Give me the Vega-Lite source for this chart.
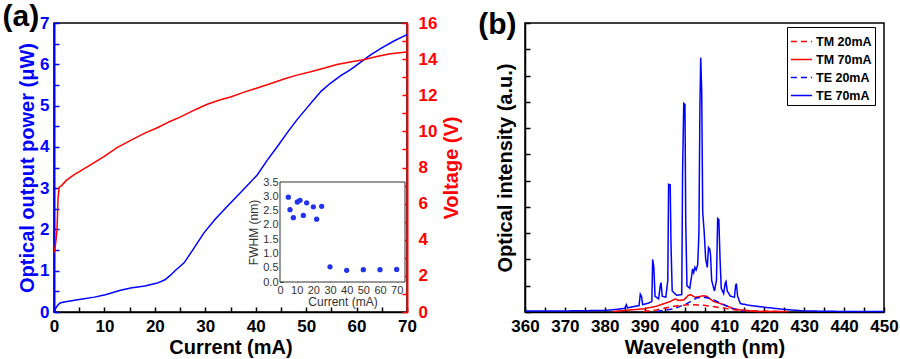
{
  "$schema": "https://vega.github.io/schema/vega-lite/v6.json",
  "padding": {"left": 1, "top": 1, "right": 0, "bottom": 0},
  "background": "white",
  "spacing": 14,
  "resolve": {
    "scale": {"color": "independent", "strokeDash": "independent"},
    "legend": {"color": "independent", "strokeDash": "independent"}
  },
  "config": {
    "font": "Liberation Sans",
    "view": {"stroke": "black", "strokeWidth": 1.5},
    "axis": {
      "grid": false,
      "labelFont": "Liberation Sans",
      "labelFontWeight": "bold",
      "labelFontSize": 17,
      "labelColor": "black",
      "labelFlush": false,
      "labelOverlap": false,
      "titleFont": "Liberation Sans",
      "titleFontWeight": "bold",
      "titleFontSize": 20,
      "titleColor": "black",
      "domainColor": "black",
      "domainWidth": 1.5,
      "tickColor": "black",
      "tickWidth": 1.5,
      "tickSize": -5,
      "labelPadding": 11,
      "titlePadding": 3
    },
    "title": {"font": "Liberation Sans", "fontWeight": "bold", "fontSize": 30, "anchor": "start", "frame": "bounds", "color": "black"}
  },
  "datasets": {
    "power": [
      {"I": 0, "P": 0}, {"I": 0.3, "P": 0.08}, {"I": 0.7, "P": 0.16}, {"I": 1.2, "P": 0.22},
      {"I": 2, "P": 0.24}, {"I": 5, "P": 0.3}, {"I": 8, "P": 0.36}, {"I": 10.2, "P": 0.42},
      {"I": 13, "P": 0.52}, {"I": 15.2, "P": 0.58}, {"I": 18, "P": 0.63}, {"I": 20.5, "P": 0.7},
      {"I": 22, "P": 0.78}, {"I": 23, "P": 0.88}, {"I": 24, "P": 1.0}, {"I": 25.8, "P": 1.19},
      {"I": 27.5, "P": 1.5}, {"I": 29.7, "P": 1.91}, {"I": 32, "P": 2.25}, {"I": 35, "P": 2.64},
      {"I": 38, "P": 3.02}, {"I": 40.3, "P": 3.32}, {"I": 42.3, "P": 3.68}, {"I": 44.3, "P": 4.01},
      {"I": 46.3, "P": 4.35}, {"I": 48.2, "P": 4.66}, {"I": 50, "P": 4.92}, {"I": 51.5, "P": 5.14},
      {"I": 53, "P": 5.35}, {"I": 54.8, "P": 5.54}, {"I": 56.8, "P": 5.72}, {"I": 58.8, "P": 5.87},
      {"I": 60.7, "P": 6.04}, {"I": 62.7, "P": 6.22}, {"I": 65, "P": 6.4}, {"I": 67.5, "P": 6.57},
      {"I": 70, "P": 6.72}
    ],
    "voltage": [
      {"I": 0.1, "V": 3.3}, {"I": 0.4, "V": 4.0}, {"I": 0.6, "V": 4.6}, {"I": 0.8, "V": 6.3},
      {"I": 1.0, "V": 6.9}, {"I": 1.5, "V": 7.0}, {"I": 2.5, "V": 7.3}, {"I": 4.0, "V": 7.6},
      {"I": 7, "V": 8.1}, {"I": 9.9, "V": 8.6}, {"I": 12.5, "V": 9.1}, {"I": 15.2, "V": 9.5},
      {"I": 18, "V": 9.9}, {"I": 20.5, "V": 10.2}, {"I": 23, "V": 10.55}, {"I": 25.1, "V": 10.8},
      {"I": 28, "V": 11.2}, {"I": 30.4, "V": 11.5}, {"I": 33, "V": 11.75}, {"I": 35, "V": 11.9},
      {"I": 38, "V": 12.2}, {"I": 40.3, "V": 12.4}, {"I": 43, "V": 12.65}, {"I": 45.6, "V": 12.9},
      {"I": 48, "V": 13.1}, {"I": 50.9, "V": 13.3}, {"I": 53.5, "V": 13.5}, {"I": 56.1, "V": 13.7},
      {"I": 59, "V": 13.85}, {"I": 61.4, "V": 13.96}, {"I": 64, "V": 14.15}, {"I": 66.7, "V": 14.3},
      {"I": 70, "V": 14.4}
    ],
    "frame": [{"x0": 0, "x1": 75, "y0": 0, "y1": 3.5}],
    "fwhm": [
      {"I": 5, "W": 2.97}, {"I": 6, "W": 2.53}, {"I": 8, "W": 2.25}, {"I": 10.4, "W": 2.8},
      {"I": 12, "W": 2.86}, {"I": 14, "W": 2.33}, {"I": 16, "W": 2.77}, {"I": 20, "W": 2.63},
      {"I": 22, "W": 2.2}, {"I": 25, "W": 2.65}, {"I": 30, "W": 0.53}, {"I": 40, "W": 0.41},
      {"I": 50, "W": 0.43}, {"I": 60, "W": 0.43}, {"I": 70, "W": 0.44}
    ],
    "spectra": [
      {"series": "TE 70mA", "wl": 360, "v": 0.02}, {"series": "TE 70mA", "wl": 370, "v": 0.02},
      {"series": "TE 70mA", "wl": 380, "v": 0.03}, {"series": "TE 70mA", "wl": 383, "v": 0.05},
      {"series": "TE 70mA", "wl": 385, "v": 0.07}, {"series": "TE 70mA", "wl": 385.4, "v": 0.14},
      {"series": "TE 70mA", "wl": 385.7, "v": 0.08}, {"series": "TE 70mA", "wl": 387, "v": 0.1},
      {"series": "TE 70mA", "wl": 388.6, "v": 0.12}, {"series": "TE 70mA", "wl": 388.9, "v": 0.34},
      {"series": "TE 70mA", "wl": 389.2, "v": 0.3}, {"series": "TE 70mA", "wl": 389.5, "v": 0.14},
      {"series": "TE 70mA", "wl": 391, "v": 0.17}, {"series": "TE 70mA", "wl": 391.8, "v": 0.2},
      {"series": "TE 70mA", "wl": 392.0, "v": 1.0}, {"series": "TE 70mA", "wl": 392.3, "v": 0.85},
      {"series": "TE 70mA", "wl": 392.6, "v": 0.3}, {"series": "TE 70mA", "wl": 393.5, "v": 0.25},
      {"series": "TE 70mA", "wl": 393.9, "v": 0.5}, {"series": "TE 70mA", "wl": 394.1, "v": 0.56},
      {"series": "TE 70mA", "wl": 394.4, "v": 0.3}, {"series": "TE 70mA", "wl": 395.3, "v": 0.28},
      {"series": "TE 70mA", "wl": 395.8, "v": 0.6}, {"series": "TE 70mA", "wl": 396.0, "v": 2.43},
      {"series": "TE 70mA", "wl": 396.4, "v": 2.42}, {"series": "TE 70mA", "wl": 396.6, "v": 1.3},
      {"series": "TE 70mA", "wl": 396.9, "v": 0.4}, {"series": "TE 70mA", "wl": 398.0, "v": 0.32},
      {"series": "TE 70mA", "wl": 399.3, "v": 0.33}, {"series": "TE 70mA", "wl": 399.5, "v": 2.64},
      {"series": "TE 70mA", "wl": 399.8, "v": 3.97}, {"series": "TE 70mA", "wl": 400.1, "v": 3.95},
      {"series": "TE 70mA", "wl": 400.3, "v": 1.7}, {"series": "TE 70mA", "wl": 400.6, "v": 0.5},
      {"series": "TE 70mA", "wl": 401.3, "v": 0.45}, {"series": "TE 70mA", "wl": 401.8, "v": 0.7},
      {"series": "TE 70mA", "wl": 402.0, "v": 0.82}, {"series": "TE 70mA", "wl": 402.3, "v": 0.75},
      {"series": "TE 70mA", "wl": 402.6, "v": 0.85}, {"series": "TE 70mA", "wl": 402.9, "v": 0.8},
      {"series": "TE 70mA", "wl": 403.3, "v": 0.9}, {"series": "TE 70mA", "wl": 403.6, "v": 1.5},
      {"series": "TE 70mA", "wl": 403.85, "v": 3.9}, {"series": "TE 70mA", "wl": 404.05, "v": 4.84},
      {"series": "TE 70mA", "wl": 404.3, "v": 4.2}, {"series": "TE 70mA", "wl": 404.55, "v": 1.9},
      {"series": "TE 70mA", "wl": 404.9, "v": 1.55}, {"series": "TE 70mA", "wl": 405.3, "v": 1.0},
      {"series": "TE 70mA", "wl": 405.7, "v": 0.85}, {"series": "TE 70mA", "wl": 406.0, "v": 1.23},
      {"series": "TE 70mA", "wl": 406.3, "v": 1.2}, {"series": "TE 70mA", "wl": 406.5, "v": 1.1},
      {"series": "TE 70mA", "wl": 406.8, "v": 0.6}, {"series": "TE 70mA", "wl": 407.5, "v": 0.4},
      {"series": "TE 70mA", "wl": 408.0, "v": 0.6}, {"series": "TE 70mA", "wl": 408.3, "v": 1.78},
      {"series": "TE 70mA", "wl": 408.6, "v": 1.76}, {"series": "TE 70mA", "wl": 408.9, "v": 1.0},
      {"series": "TE 70mA", "wl": 409.2, "v": 0.45}, {"series": "TE 70mA", "wl": 409.8, "v": 0.35},
      {"series": "TE 70mA", "wl": 410.2, "v": 0.55}, {"series": "TE 70mA", "wl": 410.4, "v": 0.58},
      {"series": "TE 70mA", "wl": 410.7, "v": 0.4}, {"series": "TE 70mA", "wl": 411.5, "v": 0.3},
      {"series": "TE 70mA", "wl": 412.5, "v": 0.28}, {"series": "TE 70mA", "wl": 412.8, "v": 0.5},
      {"series": "TE 70mA", "wl": 413.0, "v": 0.54}, {"series": "TE 70mA", "wl": 413.3, "v": 0.3},
      {"series": "TE 70mA", "wl": 414, "v": 0.16}, {"series": "TE 70mA", "wl": 416, "v": 0.13},
      {"series": "TE 70mA", "wl": 420, "v": 0.09}, {"series": "TE 70mA", "wl": 425, "v": 0.05},
      {"series": "TE 70mA", "wl": 430, "v": 0.02}, {"series": "TE 70mA", "wl": 440, "v": 0.01},
      {"series": "TE 70mA", "wl": 450, "v": 0.01},
      {"series": "TM 70mA", "wl": 382, "v": 0.01}, {"series": "TM 70mA", "wl": 389.7, "v": 0.06},
      {"series": "TM 70mA", "wl": 393, "v": 0.11}, {"series": "TM 70mA", "wl": 396.4, "v": 0.2},
      {"series": "TM 70mA", "wl": 397.7, "v": 0.25}, {"series": "TM 70mA", "wl": 398.5, "v": 0.22},
      {"series": "TM 70mA", "wl": 399.8, "v": 0.23}, {"series": "TM 70mA", "wl": 401, "v": 0.32},
      {"series": "TM 70mA", "wl": 401.5, "v": 0.33}, {"series": "TM 70mA", "wl": 402.7, "v": 0.28},
      {"series": "TM 70mA", "wl": 404.8, "v": 0.31}, {"series": "TM 70mA", "wl": 405.5, "v": 0.3},
      {"series": "TM 70mA", "wl": 407.3, "v": 0.2}, {"series": "TM 70mA", "wl": 409.8, "v": 0.14},
      {"series": "TM 70mA", "wl": 412.3, "v": 0.06}, {"series": "TM 70mA", "wl": 414.9, "v": 0.03},
      {"series": "TM 70mA", "wl": 418.2, "v": 0.01}, {"series": "TM 70mA", "wl": 426, "v": 0.01},
      {"series": "TE 20mA", "wl": 393, "v": 0.01}, {"series": "TE 20mA", "wl": 397.3, "v": 0.06},
      {"series": "TE 20mA", "wl": 400.6, "v": 0.16}, {"series": "TE 20mA", "wl": 403.1, "v": 0.27},
      {"series": "TE 20mA", "wl": 405.2, "v": 0.28}, {"series": "TE 20mA", "wl": 407.3, "v": 0.23},
      {"series": "TE 20mA", "wl": 409.8, "v": 0.14}, {"series": "TE 20mA", "wl": 412.3, "v": 0.06},
      {"series": "TE 20mA", "wl": 415, "v": 0.01},
      {"series": "TM 20mA", "wl": 389.7, "v": 0.01}, {"series": "TM 20mA", "wl": 393, "v": 0.04},
      {"series": "TM 20mA", "wl": 397.3, "v": 0.11}, {"series": "TM 20mA", "wl": 401.5, "v": 0.14},
      {"series": "TM 20mA", "wl": 404.8, "v": 0.13}, {"series": "TM 20mA", "wl": 409, "v": 0.08},
      {"series": "TM 20mA", "wl": 413, "v": 0.04}, {"series": "TM 20mA", "wl": 418, "v": 0.02},
      {"series": "TM 20mA", "wl": 424, "v": 0.01}
    ]
  },
  "hconcat": [
    {
      "width": 353,
      "height": 289,
      "title": {"text": "(a)", "offset": -18, "dx": -15},
      "layer": [
        {
          "data": {"name": "power"},
          "mark": {"type": "line", "color": "#0000ff", "strokeWidth": 1.5},
          "encoding": {
            "x": {
              "field": "I", "type": "quantitative",
              "scale": {"domain": [0, 70], "nice": false},
              "axis": {
                "values": [0, 5, 10, 15, 20, 25, 30, 35, 40, 45, 50, 55, 60, 65, 70],
                "labelExpr": "datum.value % 10 ? '' : '' + datum.value",
                "title": "Current (mA)"
              }
            },
            "y": {
              "field": "P", "type": "quantitative",
              "scale": {"domain": [0, 7], "nice": false},
              "axis": {
                "orient": "left",
                "values": [0, 0.5, 1, 1.5, 2, 2.5, 3, 3.5, 4, 4.5, 5, 5.5, 6, 6.5, 7],
                "labelExpr": "datum.value % 1 ? '' : '' + datum.value",
                "labelPadding": 10, "titlePadding": 2,
                "title": "Optical output power (μW)",
                "titleColor": "#0000ff", "labelColor": "#0000ff",
                "domainColor": "#0000ff", "tickColor": "#0000ff", "domainWidth": 2
              }
            }
          }
        },
        {
          "data": {"name": "voltage"},
          "mark": {"type": "line", "color": "#ff0000", "strokeWidth": 1.5},
          "encoding": {
            "x": {"field": "I", "type": "quantitative", "scale": {"domain": [0, 70], "nice": false}, "axis": null},
            "y": {
              "field": "V", "type": "quantitative",
              "scale": {"domain": [0, 16], "nice": false},
              "axis": {
                "orient": "right",
                "values": [0, 1, 2, 3, 4, 5, 6, 7, 8, 9, 10, 11, 12, 13, 14, 15, 16],
                "labelExpr": "datum.value % 2 ? '' : '' + datum.value",
                "labelPadding": 16, "titlePadding": 5,
                "title": "Voltage (V)", "titleAngle": -90, "titleBaseline": "top",
                "titleColor": "#ff0000", "labelColor": "#ff0000",
                "domainColor": "#ff0000", "tickColor": "#ff0000", "domainWidth": 2
              }
            }
          }
        },
        {
          "data": {"name": "frame"},
          "mark": {"type": "rect", "fill": "white", "stroke": "#333333", "strokeWidth": 1},
          "encoding": {
            "x": {"field": "x0", "type": "quantitative", "scale": {"domain": [0, 75], "range": [226, 351], "nice": false}, "axis": null},
            "x2": {"field": "x1"},
            "y": {"field": "y0", "type": "quantitative", "scale": {"domain": [0, 3.5], "range": [259, 159], "nice": false}, "axis": null},
            "y2": {"field": "y1"}
          }
        },
        {
          "data": {"name": "fwhm"},
          "mark": {"type": "point", "filled": true, "color": "#2233ee", "size": 28, "opacity": 1},
          "encoding": {
            "x": {
              "field": "I", "type": "quantitative",
              "scale": {"domain": [0, 75], "range": [226, 351], "nice": false},
              "axis": {
                "orient": "bottom", "offset": -30,
                "values": [0, 10, 20, 30, 40, 50, 60, 70],
                "domain": false, "tickSize": -3, "tickWidth": 1, "tickColor": "#333333",
                "labelFont": "Liberation Sans", "labelFontWeight": "normal", "labelFontSize": 11, "labelColor": "#333333",
                "labelPadding": 5,
                "title": "Current (mA)", "titleFont": "Liberation Sans", "titleFontWeight": "normal", "titleFontSize": 12,
                "titleColor": "#333333", "titlePadding": 1
              }
            },
            "y": {
              "field": "W", "type": "quantitative",
              "scale": {"domain": [0, 3.5], "range": [259, 159], "nice": false},
              "axis": {
                "orient": "left", "offset": -226,
                "values": [0, 0.5, 1, 1.5, 2, 2.5, 3, 3.5], "format": ".1f",
                "domain": false, "tickSize": -3, "tickWidth": 1, "tickColor": "#333333",
                "labelFont": "Liberation Sans", "labelFontWeight": "normal", "labelFontSize": 11, "labelColor": "#333333",
                "labelPadding": 5,
                "title": "FWHM (nm)", "titleFont": "Liberation Sans", "titleFontWeight": "normal", "titleFontSize": 12,
                "titleColor": "#333333", "titlePadding": 2
              }
            }
          }
        }
      ],
      "resolve": {
        "scale": {"x": "independent", "y": "independent"},
        "axis": {"x": "independent", "y": "independent"}
      }
    },
    {
      "width": 359,
      "height": 289,
      "title": {"text": "(b)", "offset": -18, "dx": -17},
      "data": {"name": "spectra"},
      "mark": {"type": "line", "strokeWidth": 1.5},
      "encoding": {
        "x": {
          "field": "wl", "type": "quantitative",
          "scale": {"domain": [360, 450], "nice": false},
          "axis": {
            "values": [360, 365, 370, 375, 380, 385, 390, 395, 400, 405, 410, 415, 420, 425, 430, 435, 440, 445, 450],
            "labelExpr": "datum.value % 10 ? '' : '' + datum.value",
            "title": "Wavelength (nm)"
          }
        },
        "y": {
          "field": "v", "type": "quantitative",
          "scale": {"domain": [0, 5.5], "nice": false},
          "axis": {
            "values": [0, 0.5, 1, 1.5, 2, 2.5, 3, 3.5, 4, 4.5, 5, 5.5],
            "labels": false,
            "title": "Optical intensity (a.u.)",
            "titlePadding": 9
          }
        },
        "color": {
          "field": "series", "type": "nominal",
          "scale": {"domain": ["TM 20mA", "TM 70mA", "TE 20mA", "TE 70mA"], "range": ["#ff0000", "#ff0000", "#0000ff", "#0000ff"]},
          "legend": {
            "title": null, "orient": "none", "legendX": 262, "legendY": 4,
            "fillColor": "white", "strokeColor": "black", "padding": 3,
            "labelFont": "Liberation Sans", "labelFontWeight": "bold", "labelFontSize": 12.5, "labelColor": "black",
            "labelOffset": 3,
            "symbolType": "stroke", "symbolSize": 450, "symbolStrokeWidth": 1.5, "rowPadding": 0
          }
        },
        "strokeDash": {
          "field": "series", "type": "nominal",
          "scale": {"domain": ["TM 20mA", "TM 70mA", "TE 20mA", "TE 70mA"], "range": [[6, 4], [1, 0], [6, 4], [1, 0]]},
          "legend": {"title": null}
        }
      }
    }
  ]
}
